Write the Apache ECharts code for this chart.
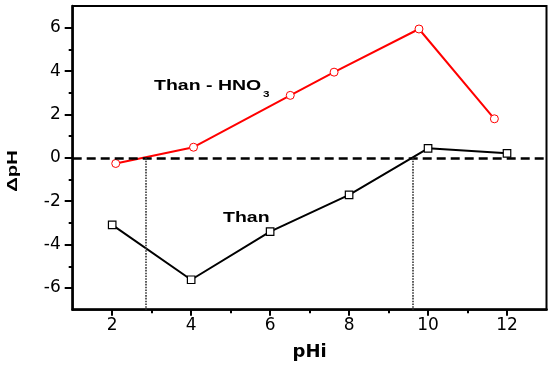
<!DOCTYPE html>
<html>
<head>
<meta charset="utf-8">
<script src="https://cdn.jsdelivr.net/npm/echarts@6/dist/echarts.min.js"></script>
<style>
  html, body { margin: 0; padding: 0; background: #fff; }
  #chart { width: 548px; height: 369px; }
</style>
</head>
<body>
<div id="chart"></div>
<script>
// ΔpH against initial pH (pHi) for the two systems
const thanHno3PHi = [2.09, 4.06, 6.51, 7.62, 9.77, 11.68];
const thanHno3DpH = [-0.26, 0.49, 2.88, 3.95, 5.94, 1.80];
const thanPHi = [2, 4, 6, 8, 10, 12];
const thanDpH = [-3.09, -5.62, -3.40, -1.71, 0.44, 0.21];

// pHi where each curve crosses ΔpH = 0
const zeroCrossPHi = [2.85, 9.62];

// axis ticks
const xMajorTicks = [2, 4, 6, 8, 10, 12];
const xMinorTicks = [3, 5, 7, 9, 11];
const yMajorTicks = [-6, -4, -2, 0, 2, 4, 6];
const yMinorTicks = [-5, -3, -1, 1, 3, 5];

const zip = (xs, ys) => xs.map((x, i) => [x, ys[i]]);

const X_MIN = 1, X_MAX = 13, Y_MIN = -7, Y_MAX = 7;
const labelFont = 'DejaVu Sans';
const boldFont = 'Liberation Sans';

const chart = echarts.init(document.getElementById('chart'), null, { renderer: 'canvas' });

const baseX = {
  type: 'value', min: X_MIN, max: X_MAX, position: 'bottom',
  splitLine: { show: false }
};
const baseY = {
  type: 'value', min: Y_MIN, max: Y_MAX, position: 'left',
  splitLine: { show: false }
};

chart.setOption({
  animation: false,
  backgroundColor: '#fff',
  grid: {
    left: 72.7, right: 1.5, top: 6, bottom: 59.3,
    show: true, borderColor: '#000', borderWidth: 2, backgroundColor: 'transparent'
  },
  xAxis: [
    Object.assign({}, baseX, {
      axisLine: { onZero: false, lineStyle: { color: '#000', width: 2.5 } },
      axisTick: { customValues: xMajorTicks, length: 6, lineStyle: { color: '#000', width: 2 } },
      axisLabel: { customValues: xMajorTicks, color: '#000', fontFamily: labelFont, fontSize: 17, margin: 7 },
      name: 'pHi', nameLocation: 'middle', nameGap: 34,
      nameTextStyle: { color: '#000', fontFamily: labelFont, fontWeight: 'bold', fontSize: 18 }
    }),
    Object.assign({}, baseX, {
      axisLine: { show: false, onZero: false },
      axisTick: { customValues: xMinorTicks, length: 3.5, lineStyle: { color: '#000', width: 2 } },
      axisLabel: { show: false }
    })
  ],
  yAxis: [
    Object.assign({}, baseY, {
      axisLine: { onZero: false, lineStyle: { color: '#000', width: 2.5 } },
      axisTick: { customValues: yMajorTicks, length: 8, lineStyle: { color: '#000', width: 2 } },
      axisLabel: { customValues: yMajorTicks, color: '#000', fontFamily: labelFont, fontSize: 17, margin: 12 }
    }),
    Object.assign({}, baseY, {
      axisLine: { show: false, onZero: false },
      axisTick: { customValues: yMinorTicks, length: 4, lineStyle: { color: '#000', width: 2 } },
      axisLabel: { show: false }
    })
  ],
  series: [
    {
      name: 'Than - HNO3',
      type: 'line',
      xAxisIndex: 0, yAxisIndex: 0,
      data: zip(thanHno3PHi, thanHno3DpH),
      symbol: 'circle', symbolSize: 8,
      itemStyle: { color: '#fff', borderColor: '#ff0000', borderWidth: 1 },
      lineStyle: { color: '#ff0000', width: 2 },
      z: 3
    },
    {
      name: 'Than',
      type: 'line',
      xAxisIndex: 0, yAxisIndex: 0,
      data: zip(thanPHi, thanDpH),
      symbol: 'rect', symbolSize: 7.5,
      itemStyle: { color: '#fff', borderColor: '#000', borderWidth: 1.2 },
      lineStyle: { color: '#000', width: 2 },
      z: 3,
      markLine: {
        silent: true,
        symbol: 'none',
        label: { show: false },
        animation: false,
        lineStyle: { color: '#000', width: 2.5, type: [9, 5] },
        data: [
          { yAxis: 0 },
          ...zeroCrossPHi.map(x => [
            { coord: [x, 0], lineStyle: { color: '#333', width: 1.6, type: [1.6, 1.2] } },
            { coord: [x, Y_MIN] }
          ])
        ]
      }
    }
  ],
  graphic: [
    {
      type: 'text', x: 12.5, y: 171, rotation: Math.PI / 2, scaleX: 1.35,
      style: {
        text: 'ΔpH', fill: '#000', font: 'bold 15px "' + boldFont + '"',
        align: 'center', verticalAlign: 'middle', textAlign: 'center', textVerticalAlign: 'middle'
      }
    },
    {
      type: 'text', x: 154, y: 78, scaleX: 1.3,
      style: {
        text: 'Than - HNO', fill: '#000', font: 'bold 15px "' + boldFont + '"',
        align: 'left', verticalAlign: 'top', textAlign: 'left', textVerticalAlign: 'top'
      }
    },
    {
      type: 'text', x: 263, y: 90.5, scaleX: 1.3,
      style: {
        text: '3', fill: '#000', font: 'bold 9px "' + boldFont + '"',
        align: 'left', verticalAlign: 'top', textAlign: 'left', textVerticalAlign: 'top'
      }
    },
    {
      type: 'text', x: 223, y: 210, scaleX: 1.3,
      style: {
        text: 'Than', fill: '#000', font: 'bold 15px "' + boldFont + '"',
        align: 'left', verticalAlign: 'top', textAlign: 'left', textVerticalAlign: 'top'
      }
    }
  ]
});
</script>
</body>
</html>
